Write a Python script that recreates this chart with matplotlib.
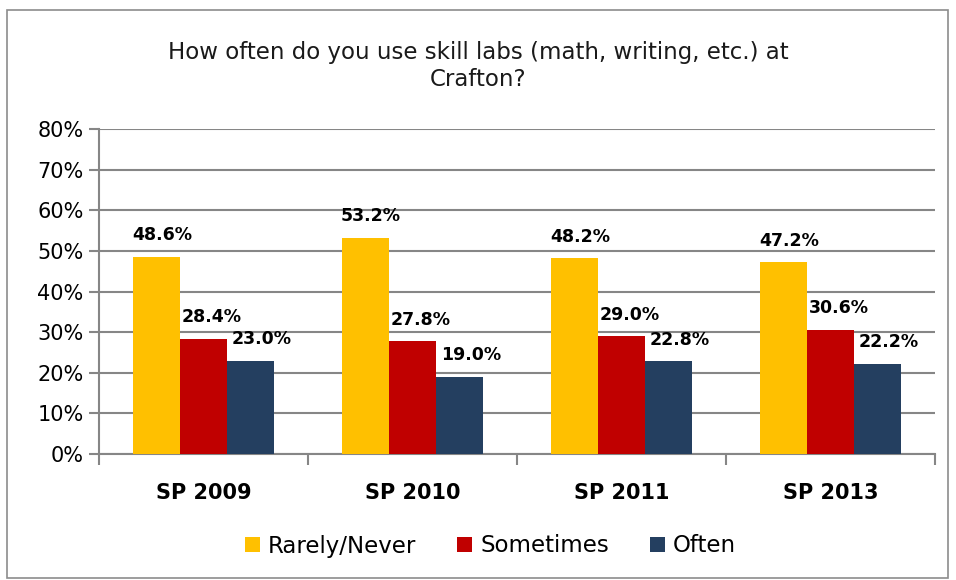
import numpy as np
import matplotlib
matplotlib.use("Agg")
import matplotlib.pyplot as plt
from matplotlib.patches import Rectangle

# data
years = ["SP 2009", "SP 2010", "SP 2011", "SP 2013"]
rarely = [48.6, 53.2, 48.2, 47.2]
sometimes = [28.4, 27.8, 29.0, 30.6]
often = [23.0, 19.0, 22.8, 22.2]
series_names = ["Rarely/Never", "Sometimes", "Often"]
colors = ["#FFC000", "#C00000", "#243F60"]
yticks = [0, 10, 20, 30, 40, 50, 60, 70, 80]

plt.rcParams['font.family'] = ['DejaVu Sans']
grid_col = "#868686"

fig = plt.figure(figsize=(9.56, 5.8), dpi=100)
ax = fig.add_axes([99 / 956, 1 - 454 / 580, (935 - 99) / 956, (454 - 129) / 580])

# outer frame of the chart
fig.patches.append(Rectangle((7 / 956, 2 / 580), 941 / 956, 568 / 580, transform=fig.transFigure,
                             fill=False, edgecolor="#8c8c8c", lw=1.2))

x = np.arange(len(years))
w = 0.225
all_vals = [rarely, sometimes, often]
for i, vals in enumerate(all_vals):
    pos = x + (i - 1) * w
    bars = ax.bar(pos, vals, w, color=colors[i], label=series_names[i], zorder=3)
    for b, v in zip(bars, vals):
        # labels sit a little right of the bar centre, like the original
        ax.annotate(f"{v:.1f}%", (b.get_x() + b.get_width() / 2, v), xytext=(4 + 2 * i, 9),
                    textcoords="offset points", ha="center", va="bottom",
                    fontsize=12.5, fontweight="bold", color="black", zorder=4)

ax.set_ylim(0, 80)
ax.set_xlim(-0.5, len(years) - 0.5)
ax.set_yticks(yticks)
ax.set_yticklabels([f"{t}%" for t in yticks], fontsize=15)
ax.yaxis.grid(True, color=grid_col, lw=1.5, zorder=0)
ax.set_axisbelow(True)

# category labels centred, tick marks between groups
ax.set_xticks(x)
ax.set_xticklabels(years, fontsize=15, fontweight="bold")
ax.tick_params(axis="x", length=0, pad=21)
ax.set_xticks(np.arange(-0.5, len(years) + 0.5, 1), minor=True)
ax.tick_params(axis="x", which="minor", length=8, width=1.5, color=grid_col, direction="out")
ax.tick_params(axis="y", length=7, width=1.5, color=grid_col, pad=4)

for s in ["top", "right"]:
    ax.spines[s].set_visible(False)
for s in ["left", "bottom"]:
    ax.spines[s].set_color(grid_col)
    ax.spines[s].set_linewidth(1.5)

fig.text(0.5, 1 - 66 / 580, "How often do you use skill labs (math, writing, etc.) at\nCrafton?",
         ha="center", va="center", fontsize=16.5, linespacing=1.27, color="#1a1a1a")

fig.legend(loc="center", bbox_to_anchor=(0.513, 1 - 546 / 580), ncol=3, frameon=False,
           fontsize=16.5, handlelength=0.65, handleheight=0.65, handletextpad=0.35, columnspacing=1.8)

fig.savefig("out.png", dpi=100)
